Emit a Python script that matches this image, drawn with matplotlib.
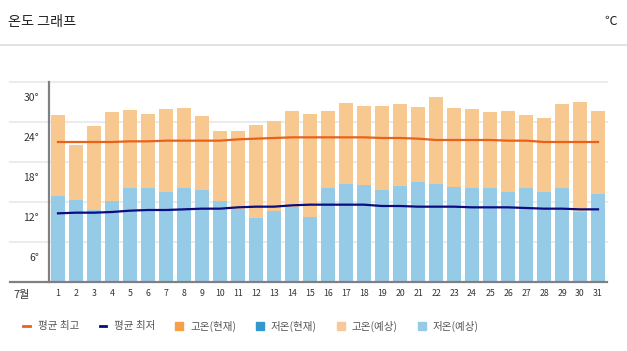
import matplotlib
matplotlib.use("Agg")
import matplotlib.pyplot as plt
from matplotlib.lines import Line2D

plt.rcParams["font.family"] = ["Noto Sans CJK KR", "DejaVu Sans"]

# 7월 일별 기온 (막대: 고온/저온 예상, 선: 평년 평균)
days = list(range(1, 32))
high = [25.0, 20.6, 23.4, 25.5, 25.8, 25.2, 25.9, 26.1, 24.9, 22.6, 22.6, 23.6, 24.1, 25.6, 25.2, 25.6,
        26.8, 26.4, 26.4, 26.7, 26.2, 27.7, 26.1, 25.9, 25.5, 25.6, 25.0, 24.6, 26.7, 27.0, 25.6]
low = [12.9, 12.3, 10.8, 12.2, 14.1, 14.1, 13.5, 14.1, 13.8, 12.1, 10.9, 9.6, 10.6, 11.3, 9.8, 14.1,
       14.7, 14.5, 13.8, 14.4, 15.0, 14.7, 14.2, 14.1, 14.1, 13.5, 14.1, 13.5, 14.1, 10.5, 13.2]
avg_max = [21.0, 21.0, 21.0, 21.0, 21.1, 21.1, 21.2, 21.2, 21.2, 21.2, 21.4, 21.5, 21.6, 21.7, 21.7, 21.7,
           21.7, 21.7, 21.6, 21.6, 21.5, 21.3, 21.3, 21.3, 21.3, 21.2, 21.2, 21.0, 21.0, 21.0, 21.0]
avg_min = [10.3, 10.4, 10.4, 10.5, 10.7, 10.8, 10.8, 10.9, 11.0, 11.0, 11.2, 11.3, 11.3, 11.5, 11.6, 11.6,
           11.6, 11.6, 11.4, 11.4, 11.3, 11.3, 11.3, 11.2, 11.2, 11.2, 11.1, 11.0, 11.0, 10.9, 10.9]
yticks = [6, 12, 18, 24, 30]
legend_labels = ["평균 최고", "평균 최저", "고온(현재)", "저온(현재)", "고온(예상)", "저온(예상)"]

W, H = 627, 351
fig = plt.figure(figsize=(W / 100, H / 100), dpi=100)

# 제목 영역
fig.text(8 / W, 1 - 22 / H, "온도 그래프", fontsize=10.2, color="#222", va="center", ha="left")
fig.text(617 / W, 1 - 21 / H, "℃", fontsize=9, color="#222", va="center", ha="right")
fig.add_artist(Line2D([0, 1], [1 - 45 / H, 1 - 45 / H], color="#dddddd", lw=1.2))

ax = fig.add_axes([49 / W, 1 - 282 / H, (607 - 49) / W, (282 - 82) / H])
ax.set_xlim(0.5, 31.5)
ax.set_ylim(0, 30)

ax.bar(days, high, width=0.78, color="#f8c891", zorder=2)
ax.bar(days, low, width=0.78, color="#96cbe8", zorder=3)
ax.plot(days, avg_max, color="#e8621c", lw=1.6, zorder=4)
ax.plot(days, avg_min, color="#0c0c80", lw=1.6, zorder=4)

# 격자선 (왼쪽으로 조금 더 연장)
x0 = -39 / 558
trans = ax.get_yaxis_transform()
for v in yticks:
    ax.plot([x0, 1], [v, v], color="#ececec", lw=1.5, transform=trans, clip_on=False, zorder=1)
    ax.text(-10 / 558, v - 2.4, f"{v}°", transform=trans, ha="right", va="center",
            fontsize=7.5, color="#333")
ax.plot([x0, 1], [0, 0], color="#808080", lw=1.6, transform=trans, clip_on=False, zorder=5)

for s in ax.spines.values():
    s.set_visible(False)
ax.spines["left"].set_visible(True)
ax.spines["left"].set_color("#808080")
ax.spines["left"].set_linewidth(1.6)
ax.set_yticks([])
ax.set_xticks(days)
ax.set_xticklabels([str(d) for d in days], fontsize=6.3, color="#333")
ax.tick_params(axis="x", length=0, pad=5)
ax.text(x0 + 3 / 558, -1.95, "7월", transform=trans, ha="left", va="center", fontsize=8, color="#333")

handles = [
    Line2D([], [], color="#e8621c", lw=2),
    Line2D([], [], color="#0c0c80", lw=2),
    Line2D([], [], marker="s", ls="none", color="#f7a04a", markersize=5.5),
    Line2D([], [], marker="s", ls="none", color="#3399cc", markersize=5.5),
    Line2D([], [], marker="s", ls="none", color="#f9c89a", markersize=5.5),
    Line2D([], [], marker="s", ls="none", color="#96cbe8", markersize=5.5),
]
fig.legend(handles, legend_labels, loc="center", bbox_to_anchor=(251 / W, 1 - 326 / H), ncol=6,
           frameon=False, fontsize=7.6, handlelength=0.6, handletextpad=0.75, columnspacing=1.95,
           labelcolor="#555")

fig.savefig("out.png", dpi=100)
